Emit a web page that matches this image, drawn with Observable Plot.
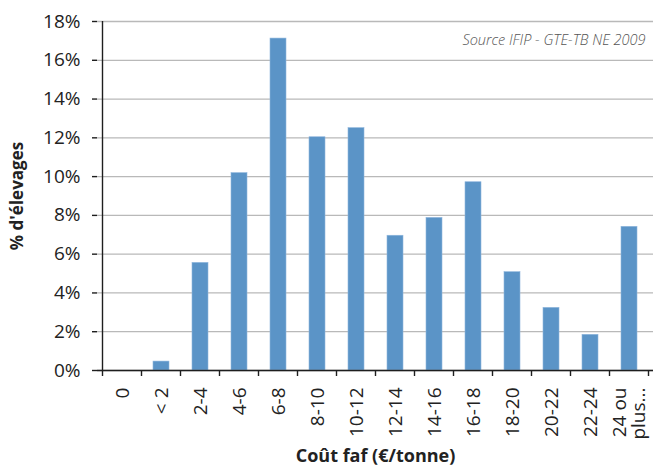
<!DOCTYPE html>
<html>
<head>
<meta charset="utf-8">
<script src="https://cdn.jsdelivr.net/npm/d3@7"></script>
<script src="https://cdn.jsdelivr.net/npm/@observablehq/plot@0.6"></script>
<style>
  html, body { margin: 0; padding: 0; background: #fff; }
  #chart svg { display: block; }
</style>
</head>
<body>
<div id="chart"></div>
<script>
const categories = ["0", "< 2", "2-4", "4-6", "6-8", "8-10", "10-12", "12-14", "14-16", "16-18", "18-20", "20-22", "22-24", "24 ou\nplus..."];
const values = [0, 0.46, 5.55, 10.18, 17.12, 12.03, 12.5, 6.95, 7.87, 9.71, 5.07, 3.23, 1.84, 7.41];
const yTicks = [0, 2, 4, 6, 8, 10, 12, 14, 16, 18];
const sourceText = "Source IFIP - GTE-TB NE 2009";
const xTitle = "Coût faf (€/tonne)";
const yTitle = "% d'élevages";

const data = categories.map((c, i) => ({cat: c, value: values[i]}));
const font = "'Open Sans', 'DejaVu Sans', sans-serif";

// Boundary ticks between categories and left axis line, drawn from the scales
function bandBoundaryTicks(...args) {
  const scales = args.find(a => a && typeof a.x === "function" && typeof a.y === "function");
  if (!scales) return null;
  const x = scales.x, y = scales.y;
  const gap = (x.step() - x.bandwidth()) / 2;
  const g = d3.create("svg:g").attr("stroke", "#1e1e1e").attr("stroke-width", 1.4);
  const y0 = y(0);
  const xs = categories.map(c => x(c) - gap);
  xs.push(x(categories[categories.length - 1]) + x.bandwidth() + gap);
  for (const px of xs) {
    g.append("line").attr("x1", px).attr("x2", px).attr("y1", y0).attr("y2", y0 + 6);
  }
  g.append("line").attr("x1", xs[0]).attr("x2", xs[0]).attr("y1", y(yTicks[yTicks.length - 1])).attr("y2", y0);
  return g.node();
}

const plot = Plot.plot({
  width: 659,
  height: 465,
  marginLeft: 97,
  marginRight: 6,
  marginTop: 21,
  marginBottom: 95,
  style: {fontFamily: font, fontSize: "19px", color: "#222", background: "#fff"},
  x: {domain: categories, paddingInner: 0.6, paddingOuter: 0.3, label: null},
  y: {domain: [0, 18], label: null},
  marks: [
    Plot.gridY(yTicks, {stroke: "#b9b9b9", strokeOpacity: 1, strokeWidth: 1.3}),
    Plot.barY(data, {x: "cat", y: "value", fill: "#5b94c7", stroke: "#8fb6dd", strokeWidth: 0.6}),
    Plot.axisY(yTicks, {tickFormat: d => d + "%", tickSize: 5, tickPadding: 12, stroke: "#1e1e1e", strokeWidth: 1.4, fontSize: 19, fill: "#222", label: null}),
    Plot.axisX({tickRotate: -90, tickSize: 0, tickPadding: 17, fontSize: 19, fill: "#222", label: null}),
    Plot.ruleY([0], {stroke: "#1e1e1e", strokeWidth: 1.4}),
    bandBoundaryTicks,
    Plot.text([sourceText], {frameAnchor: "top-right", dx: -8, dy: 13, text: d => d, fontStyle: "italic", fontWeight: 300, fontSize: 14.5, fill: "#555", textAnchor: "end"}),
    Plot.text([yTitle], {frameAnchor: "left", dx: -80, rotate: -90, textAnchor: "middle", text: d => d, fontWeight: "bold", fontSize: 17, fill: "#222"}),
    Plot.text([xTitle], {frameAnchor: "bottom", dy: 91, text: d => d, fontWeight: "bold", fontSize: 18, fill: "#222"})
  ]
});
document.getElementById("chart").appendChild(plot);
</script>
</body>
</html>
